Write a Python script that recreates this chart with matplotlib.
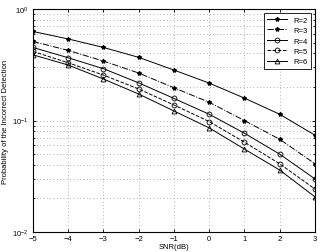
import matplotlib
matplotlib.use("Agg")
import matplotlib.pyplot as plt
import numpy as np

plt.rcParams['font.family'] = ['Liberation Sans', 'DejaVu Sans']

snr = [-5, -4, -3, -2, -1, 0, 1, 2, 3]

p_r2 = [0.63, 0.54, 0.453, 0.369, 0.284, 0.217, 0.159, 0.114, 0.074]
p_r3 = [0.513, 0.426, 0.342, 0.267, 0.197, 0.146, 0.100, 0.068, 0.041]
p_r4 = [0.453, 0.366, 0.292, 0.218, 0.158, 0.114, 0.077, 0.050, 0.030]
p_r5 = [0.417, 0.330, 0.256, 0.192, 0.138, 0.098, 0.064, 0.041, 0.0243]
p_r6 = [0.389, 0.315, 0.236, 0.173, 0.122, 0.086, 0.0555, 0.036, 0.0207]

labels = ['R=2', 'R=3', 'R=4', 'R=5', 'R=6']

fig = plt.figure(figsize=(3.2, 2.53), dpi=100)
ax = fig.add_axes([0.103, 0.079, 0.881, 0.881])

ax.semilogy(snr, p_r2, '-', marker='*', color='black', lw=0.7, ms=3, label=labels[0])
ax.semilogy(snr, p_r3, '-.', marker='*', color='black', lw=0.7, ms=3, label=labels[1])
ax.semilogy(snr, p_r4, '-', marker='o', mfc='none', color='black', lw=0.7, ms=3.5, mew=0.6, label=labels[2])
ax.semilogy(snr, p_r5, '--', marker='o', mfc='none', color='black', lw=0.7, ms=3.5, mew=0.6, label=labels[3])
ax.semilogy(snr, p_r6, '-', marker='^', mfc='none', color='black', lw=0.7, ms=3.5, mew=0.6, label=labels[4])

ax.set_xlim(-5, 3)
ax.set_ylim(1e-2, 1)
ax.set_xticks(snr)
ax.set_xticklabels(['\u22125', '\u22124', '\u22123', '\u22122', '\u22121', '0', '1', '2', '3'])
ax.grid(True, which='major', linestyle=(0, (1, 3)), color='#999999', lw=0.6)
ax.grid(True, which='minor', axis='y', linestyle=(0, (1, 3)), color='#999999', lw=0.6)
ax.tick_params(which='both', direction='in', top=True, right=True, labelsize=5.5, length=2.5, width=0.6)
ax.tick_params(which='minor', length=1.5)
ax.tick_params(axis='x', pad=2)
for s in ax.spines.values():
    s.set_linewidth(0.8)

ax.set_xlabel('SNR(dB)', fontsize=5.5, labelpad=1)
ax.set_ylabel('Probability of the Incorrect Detection', fontsize=5.5, labelpad=2)

leg = ax.legend(loc='upper right', fontsize=5.5, fancybox=False, edgecolor='black',
                framealpha=1, handlelength=2.6, borderpad=0.45, labelspacing=0.4)
leg.get_frame().set_linewidth(0.6)

fig.savefig('out.png', dpi=100)
